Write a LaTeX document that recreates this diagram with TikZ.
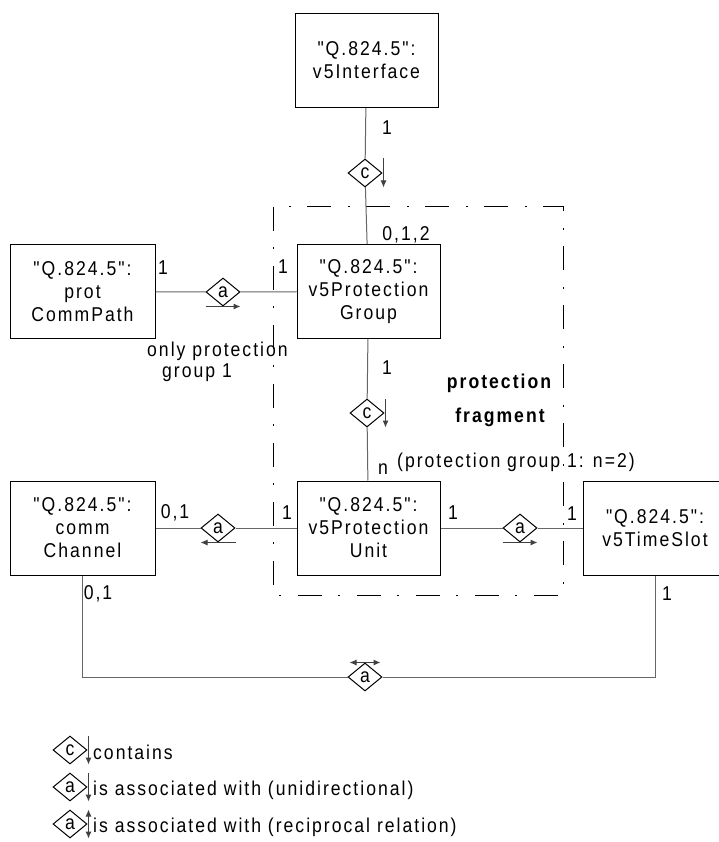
\documentclass[tikz,border=0pt]{standalone}
\usepackage{fontspec}
\setmainfont{Liberation Sans}[Ligatures=TeXOff,FakeStretch=0.88,LetterSpace=10]
\usetikzlibrary{shapes.geometric,arrows.meta}

\begin{document}
\begin{tikzpicture}[x=1pt,y=-1pt]
    \useasboundingbox (0,0) rectangle (718,842);
    \fontsize{20}{23}\selectfont

        \tikzstyle{objbox}=[draw,line width=1pt,minimum width=143pt,minimum height=94pt,align=center,inner sep=0pt,fill=white]
        \tikzstyle{rel}=[draw,diamond,line width=1pt,fill=white,inner sep=0pt,minimum width=34pt,minimum height=28pt]
        \tikzstyle{conn}=[draw=black!60,line width=1pt]
        \tikzstyle{dirarrow}=[line width=1pt,black!75,-{Latex[length=7pt,width=6pt]}]
        \tikzstyle{mult}=[inner sep=1pt]

        %% protection fragment frame
        \draw[line width=1pt,dash pattern=on 24pt off 16pt on 2pt off 17pt] (273,207) rectangle (563,595);

        %% objects
        \node[objbox] (iface) at (366.5,60.5) {"Q.824.5":\\v5Interface};
        \node[objbox] (pgroup) at (368.5,291.5) {"Q.824.5":\\v5Protection\\Group};
        \node[objbox] (punit) at (368.5,528) {"Q.824.5":\\v5Protection\\Unit};
        \node[objbox,minimum width=145pt] (commpath) at (82.5,291.5) {"Q.824.5":\\prot\\CommPath};
        \node[objbox,minimum width=145pt] (channel) at (82.5,528) {"Q.824.5":\\comm\\Channel};
        \node[objbox,minimum width=144pt] (slot) at (655,528) {"Q.824.5":\\v5TimeSlot};

        %% relations
        \node[rel] (contA) at (365,173) {c};
        \node[rel] (assocA) at (223,292) {a};
        \node[rel] (contB) at (367,413) {c};
        \node[rel] (assocB) at (218,528) {a};
        \node[rel] (assocC) at (520,528) {a};
        \node[rel] (assocD) at (365,677) {a};

        \draw[conn] (iface) -- (contA) -- (pgroup);
        \draw[conn] (commpath) -- (assocA) -- (pgroup);
        \draw[conn] (pgroup) -- (contB) -- (punit);
        \draw[conn] (channel) -- (assocB) -- (punit);
        \draw[conn] (punit) -- (assocC) -- (slot);
        \draw[conn] (channel.south) |- (assocD) -| (slot.south);

        %% reading direction
        \draw[dirarrow] ([xshift=1pt]contA.east |- contA.north) -- ([xshift=1pt]contA.east |- contA.south);
        \draw[dirarrow] ([xshift=1pt]contB.east |- contB.north) -- ([xshift=1pt]contB.east |- contB.south);
        \draw[dirarrow] (assocA.west |- assocA.south) -- (assocA.east |- assocA.south);
        \draw[dirarrow] (assocB.east |- assocB.south) -- (assocB.west |- assocB.south);
        \draw[dirarrow] (assocC.west |- assocC.south) -- (assocC.east |- assocC.south);
        \draw[dirarrow,{Latex[length=7pt,width=6pt]}-{Latex[length=7pt,width=6pt]}] ([xshift=2pt]assocD.west |- assocD.north) -- ([xshift=-2pt]assocD.east |- assocD.north);

        %% multiplicities
        \node[mult] (mIface) at (387,128) {1};
        \node[mult] (mGroupTop) at (406,235) {0,1,2};
        \node[mult] (mGroupLeft) at (283,267) {1};
        \node[mult] (mPath) at (163,268) {1};
        \node[mult] (mGroupBot) at (387,368) {1};
        \node[mult] (mUnitTop) at (383,469) {n};
        \node[mult] (mChanRight) at (175,513) {0,1};
        \node[mult] (mUnitLeft) at (287,513) {1};
        \node[mult] (mUnitRight) at (453,513) {1};
        \node[mult] (mSlotLeft) at (572,514) {1};
        \node[mult] (mChanBot) at (98,594) {0,1};
        \node[mult] (mSlotBot) at (667,594) {1};

        %% notes
        \node[mult,align=left,anchor=north west,font=\fontsize{20}{21}\selectfont] (noteOnly) at (146,341) {only protection\\\hspace*{15pt}group 1};
        \node[mult] (fragTitle) at (499,383) {\bfseries protection};
        \node[mult] (fragSub) at (500,417) {\bfseries fragment};
        \node[mult,anchor=west] (noteN) at (396,462) {(protection group 1: n=2)};

        %% legend
        \node[rel] (keyC) at (70,750) {c};
        \draw[dirarrow] ([xshift=1pt]keyC.east |- keyC.north) -- ([xshift=1pt]keyC.east |- keyC.south);
        \node[mult,anchor=west] (keyCtext) at (92,752) {contains};
        \node[rel] (keyA) at (70,787) {a};
        \draw[dirarrow] ([xshift=1pt]keyA.east |- keyA.north) -- ([xshift=1pt]keyA.east |- keyA.south);
        \node[mult,anchor=west] (keyAtext) at (92,790) {is associated with (unidirectional)};
        \node[rel] (keyR) at (70,824) {a};
        \draw[dirarrow,{Latex[length=7pt,width=6pt]}-{Latex[length=7pt,width=6pt]}] ([xshift=1pt]keyR.east |- keyR.north) -- ([xshift=1pt]keyR.east |- keyR.south);
        \node[mult,anchor=west] (keyRtext) at (92,827) {is associated with (reciprocal relation)};

\end{tikzpicture}
\end{document}
